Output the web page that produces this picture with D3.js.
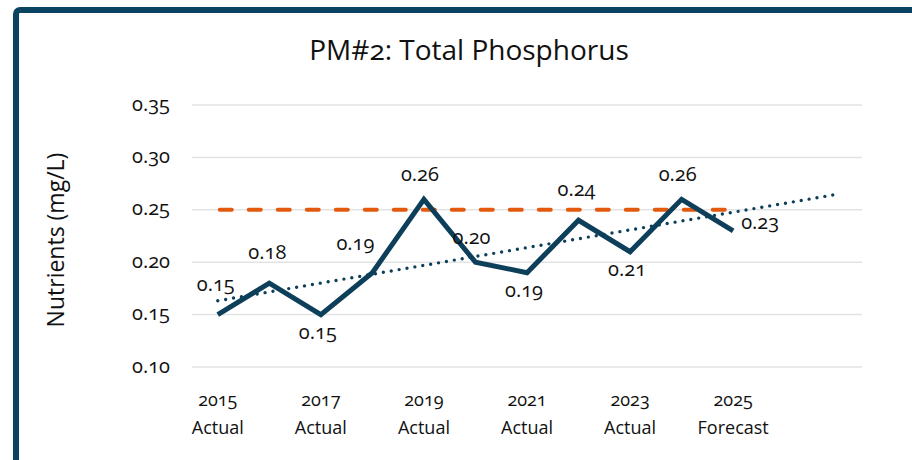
<!DOCTYPE html>
<html>
<head>
<meta charset="utf-8">
<script src="https://d3js.org/d3.v7.min.js"></script>
<style>
  body { margin: 0; background: #fff; }
  text { font-family: "Open Sans", sans-serif; fill: #111; }
  .num { font-feature-settings: "onum"; }
</style>
</head>
<body>
<div id="chart"></div>
<script>
// data
var years = ["2015","2016","2017","2018","2019","2020","2021","2022","2023","2024","2025","2026","2027"];
var kinds = ["Actual","Actual","Actual","Actual","Actual","Actual","Actual","Actual","Actual","Actual","Forecast","",""];
var values = [0.15, 0.18, 0.15, 0.19, 0.26, 0.20, 0.19, 0.24, 0.21, 0.26, 0.23];
var target = 0.25;
var labelPos = ["t","t","b","tl","tn","tn","b","t","b","tn","r"];
var yTicks = [0.10, 0.15, 0.20, 0.25, 0.30, 0.35];

var w = 912, h = 460;
var plotL = 192, plotR = 862, plotT = 105, plotB = 367;
var navy = "#0d3f5b", orange = "#e35a0e";

var svg = d3.select("#chart").append("svg").attr("width", w).attr("height", h);

// frame
svg.append("rect")
  .attr("x", 16).attr("y", 10).attr("width", 960).attr("height", 520)
  .attr("rx", 4)
  .attr("fill", "none").attr("stroke", "#0b4462").attr("stroke-width", 6);

var x = d3.scaleBand().domain(years).range([plotL, plotR]);
var y = d3.scaleLinear().domain([0.10, 0.35]).range([plotB, plotT]);
var cx = function(i) { return x(years[i]) + x.bandwidth() / 2; };

// gridlines
svg.selectAll(".grid").data(yTicks).enter().append("line")
  .attr("x1", plotL).attr("x2", plotR)
  .attr("y1", function(d) { return y(d); }).attr("y2", function(d) { return y(d); })
  .attr("stroke", "#e3e3e3").attr("stroke-width", 1.5);

var yAxis = d3.axisLeft(y).tickValues(yTicks).tickFormat(d3.format(".2f")).tickSize(0).tickPadding(22);
var ga = svg.append("g").attr("transform", "translate(" + plotL + ",0)").call(yAxis);
ga.select(".domain").remove();
ga.selectAll("text").attr("class", "num").style("font-family", "'Open Sans', sans-serif")
  .style("font-size", "20px").attr("fill", "#111").attr("dy", "0.25em");

var xAxis = d3.axisBottom(x).tickSize(0).tickFormat("");
var gx = svg.append("g").attr("transform", "translate(0," + plotB + ")").call(xAxis);
gx.select(".domain").remove();
gx.selectAll(".tick").each(function(d, i) {
  if (i % 2 != 0 || !kinds[i]) return;
  var t = d3.select(this).append("text").attr("text-anchor", "middle").style("font-size", "18px")
    .style("font-family", "'Open Sans', sans-serif").attr("fill", "#111");
  t.append("tspan").attr("class", "num").attr("x", 0).attr("y", 39).text(d);
  t.append("tspan").attr("x", 0).attr("y", 67).text(kinds[i]);
});

// target line
svg.append("line")
  .attr("x1", cx(0)).attr("x2", cx(values.length - 1) - 6)
  .attr("y1", y(target)).attr("y2", y(target))
  .attr("stroke", orange).attr("stroke-width", 4)
  .attr("stroke-dasharray", "12,17").attr("stroke-linecap", "round")
  .attr("stroke-dashoffset", -2);

// linear trend over the actual series, extended to last category
var n = values.length;
var mx = d3.mean(d3.range(n)), my = d3.mean(values);
var slope = d3.sum(d3.range(n), function(i) { return (i - mx) * (values[i] - my); }) /
            d3.sum(d3.range(n), function(i) { return (i - mx) * (i - mx); });
var trendAt = function(i) { return my + slope * (i - mx); };
svg.append("line")
  .attr("x1", cx(0)).attr("y1", y(trendAt(0)))
  .attr("x2", cx(years.length - 1)).attr("y2", y(trendAt(years.length - 1)))
  .attr("stroke", navy).attr("stroke-width", 3.4)
  .attr("stroke-dasharray", "0,8").attr("stroke-linecap", "round");

// main line
svg.append("path").datum(values)
  .attr("d", d3.line().x(function(d, i) { return cx(i); }).y(function(d) { return y(d); }))
  .attr("fill", "none").attr("stroke", navy).attr("stroke-width", 5)
  .attr("stroke-linejoin", "miter");

// data labels
var off = { t: [-2, -31], tn: [-4, -25], b: [-3, 17], tl: [-17, -30], r: [27, -9] };
svg.selectAll(".lbl").data(values).enter().append("text")
  .attr("class", "num")
  .attr("x", function(d, i) { return cx(i) + off[labelPos[i]][0]; })
  .attr("y", function(d, i) { return y(d) + off[labelPos[i]][1]; })
  .attr("dy", "0.35em")
  .attr("text-anchor", "middle")
  .style("font-size", "20px")
  .text(function(d) { return d3.format(".2f")(d); });

// titles
svg.append("text").attr("x", 469).attr("y", 60).attr("text-anchor", "middle")
  .attr("class", "num").style("font-size", "28px").text("PM#2: Total Phosphorus");
svg.append("text").attr("transform", "translate(64,240) rotate(-90)").attr("text-anchor", "middle")
  .style("font-size", "23px").text("Nutrients (mg/L)");
</script>
</body>
</html>
